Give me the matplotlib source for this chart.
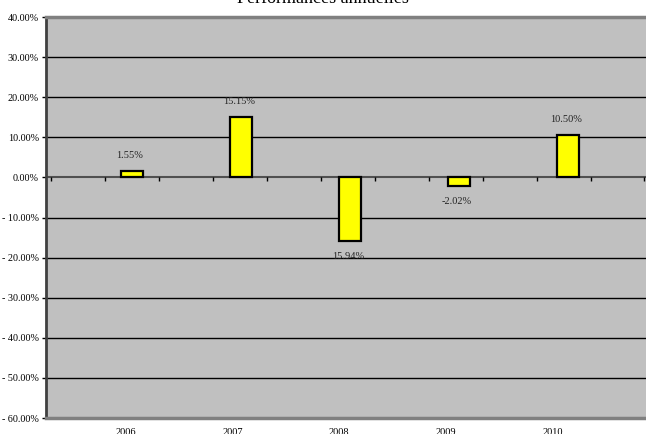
import numpy as np
import matplotlib.pyplot as plt

years = ['2006', '2007', '2008', '2009', '2010']
returns = [1.55, 15.15, -15.94, -2.02, 10.50]
value_labels = ['1.55%', '15.15%', '15.94%', '-2.02%', '10.50%']
y_ticks = [40, 30, 20, 10, 0, -10, -20, -30, -40, -50, -60]

plt.rcParams['font.family'] = ['Liberation Serif', 'DejaVu Serif']

fig = plt.figure(figsize=(6.46, 4.34), dpi=100)
ax = fig.add_axes([46/646, 1 - 418/434, 1 - 46/646, (418 - 17)/434])
ax.set_facecolor('#c0c0c0')

x = np.arange(len(years))
ax.set_xlim(-0.789, 4.716)
ax.set_ylim(-60, 40)

for t in y_ticks:
    if t != 0:
        ax.axhline(t, color='black', linewidth=1.0, zorder=1)
ax.axhline(0, color='#505050', linewidth=1.5, zorder=2)

# small tick marks on the zero line
minor = np.arange(-0.743, 4.72, 0.495)
ax.vlines(minor, -1.0, 0, color='black', linewidth=1.0, zorder=2)

ax.bar(x, returns, width=0.21, color='#ffff00', edgecolor='black', linewidth=1.6, zorder=3)

for xi, v, lab in zip(x, returns, value_labels):
    off = 3.9 if v >= 0 else -3.9
    ax.text(xi - 0.02, v + off, lab, ha='center', va='center', fontsize=7.5, color='#222222')

ax.set_yticks(y_ticks)
ax.set_yticklabels(['%.2f%%' % t if t >= 0 else '- %.2f%%' % abs(t) for t in y_ticks], fontsize=7.3)
ax.tick_params(axis='y', length=3, width=1, pad=2)

ax.set_xticks(x - 0.055 - 0.022 * x)
ax.set_xticklabels(years, fontsize=7.5)
ax.tick_params(axis='x', length=0, pad=7)

ax.spines['left'].set_color('#404040')
ax.spines['left'].set_linewidth(2)
for side in ['top', 'bottom']:
    ax.spines[side].set_color('#808080')
    ax.spines[side].set_linewidth(2.5)
ax.spines['right'].set_visible(False)

fig.text(0.5, 1 - 3/434, 'Performances annuelles', ha='center', va='baseline', fontsize=13)

fig.savefig('out.png', dpi=100)
